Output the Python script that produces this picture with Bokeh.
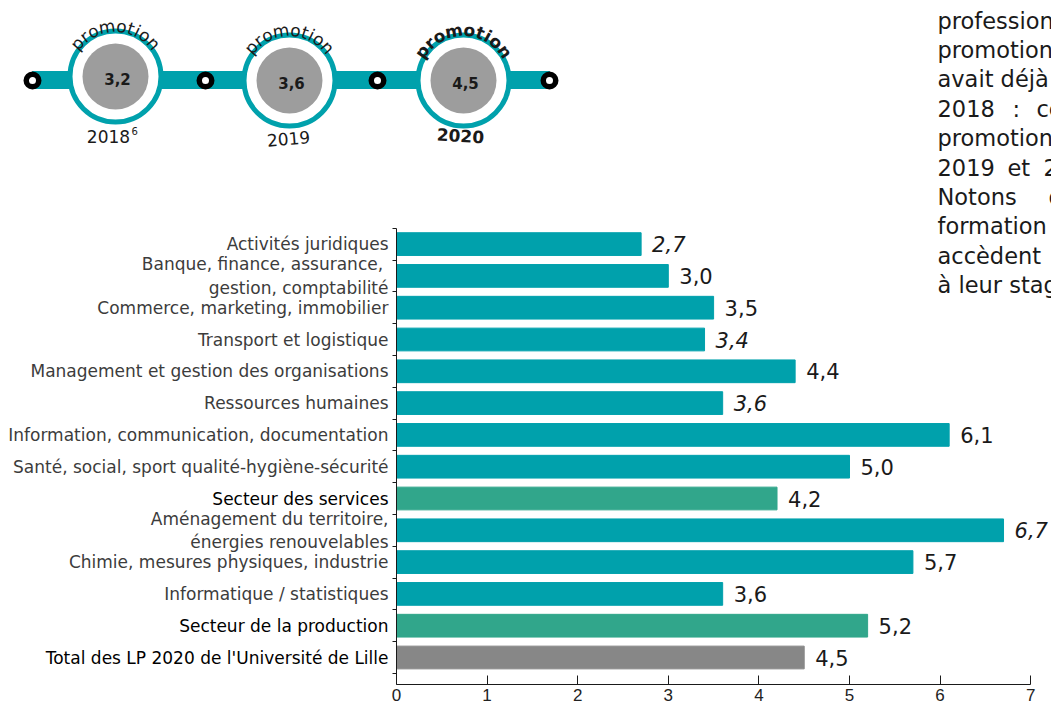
import math
from bokeh.plotting import figure
from bokeh.models import Range1d, LinearAxis, FixedTicker, ColumnDataSource
from bokeh.embed import file_html
from bokeh.resources import INLINE
from bokeh.core.properties import value

# ---------------- data ----------------
categories = [
    "Activités juridiques",
    "Banque, finance, assurance, \ngestion, comptabilité",
    "Commerce, marketing, immobilier",
    "Transport et logistique",
    "Management et gestion des organisations",
    "Ressources humaines",
    "Information, communication, documentation",
    "Santé, social, sport qualité-hygiène-sécurité",
    "Secteur des services",
    "Aménagement du territoire,\nénergies renouvelables",
    "Chimie, mesures physiques, industrie",
    "Informatique / statistiques",
    "Secteur de la production",
    "Total des LP 2020 de l'Université de Lille",
]
values = [2.7, 3.0, 3.5, 3.4, 4.4, 3.6, 6.1, 5.0, 4.2, 6.7, 5.7, 3.6, 5.2, 4.5]
value_labels = ["2,7", "3,0", "3,5", "3,4", "4,4", "3,6", "6,1", "5,0", "4,2", "6,7", "5,7", "3,6", "5,2", "4,5"]
italic_flags = [True, False, False, True, False, True, False, False, False, True, False, False, False, False]
kinds = ["filiere"] * 8 + ["secteur"] + ["filiere"] * 3 + ["secteur", "total"]

promo_years = ["2018", "2019", "2020"]
promo_values = ["3,2", "3,6", "4,5"]
x_ticks = [0, 1, 2, 3, 4, 5, 6, 7]

# ---------------- styles ----------------
TEAL = "#00A1AC"
GREEN = "#31A68B"
TOTAL = "#878787"
DISK = "#9D9D9D"
TXT = "#1a1a1a"
LAB = "#3c3c3c"
kind_color = {"filiere": TEAL, "secteur": GREEN, "total": TOTAL}
label_color = {"filiere": LAB, "secteur": "#000000", "total": "#000000"}
FONT = value("DejaVu Sans")

# ---------------- geometry (canvas pixels) ----------------
CW, CH = 1051, 702
PX0, PXU = 396.0, 90.6          # pixel of value 0, pixels per unit
ROW_Y0, ROW_H = 657.0, 31.8     # pixel of last row centre, row pitch
AXIS_Y = 684.0


def ry(py):
    return (ROW_Y0 - py) / ROW_H


n = len(categories)
ys = [n - 1 - i for i in range(n)]

p = figure(width=CW, height=CH,
           x_range=Range1d(-PX0 / PXU, (CW - PX0) / PXU),
           y_range=Range1d(ry(CH), ry(0)),
           output_backend="svg", toolbar_location=None, min_border=0,
           x_axis_location=None, y_axis_location=None)
p.grid.visible = False
p.outline_line_color = None
p.extra_x_ranges = {"px": Range1d(0, CW)}
p.extra_y_ranges = {"px": Range1d(CH, 0)}
PX = dict(x_range_name="px", y_range_name="px")

# ================= bar chart =================
src = ColumnDataSource(dict(y=ys, v=values, color=[kind_color[k] for k in kinds]))
p.hbar(y="y", left=0, right="v", height=0.715, color="color", source=src)

xaxis = LinearAxis(fixed_location=ry(AXIS_Y), bounds=(0, 7), ticker=FixedTicker(ticks=x_ticks),
                   major_tick_in=9, major_tick_out=0, minor_tick_line_color=None,
                   axis_line_color=TXT, major_tick_line_color=TXT,
                   major_label_text_font="Liberation Sans", major_label_text_font_size="17px",
                   major_label_text_color="#222222", major_label_standoff=4)
p.add_layout(xaxis, "below")
yticks = [i - 0.5 for i in range(0, n + 1)]
yaxis = LinearAxis(fixed_location=0, bounds=(ry(AXIS_Y), n - 0.5), ticker=FixedTicker(ticks=yticks),
                   major_tick_in=0, major_tick_out=4, minor_tick_line_color=None,
                   axis_line_color=TXT, major_tick_line_color=TXT,
                   major_label_overrides={t: "" for t in yticks})
p.add_layout(yaxis, "left")

cat_src = ColumnDataSource(dict(y=ys, text=categories, color=[label_color[k] for k in kinds]))
p.text(x=0, y="y", text="text", source=cat_src, x_offset=-8, text_align="right",
       text_baseline="middle", text_color="color", text_font=FONT, text_font_size="17px",
       text_line_height=1.18)

for flag, style in [(True, "italic"), (False, "normal")]:
    idx = [i for i in range(n) if italic_flags[i] == flag]
    p.text(x=[values[i] for i in idx], y=[ys[i] for i in idx], text=[value_labels[i] for i in idx],
           x_offset=11, text_align="left", text_baseline="middle", text_font=FONT,
           text_font_size="21px", text_font_style=style, text_color=TXT)

# ================= top timeline graphic (pixel coordinates) =================
circ_x = [115, 289, 463]
circ_y = [76, 80, 80]
node_x = [32, 205, 377, 549]

p.hbar(y=[79.5], left=[node_x[0]], right=[node_x[-1]], height=17, color=TEAL, **PX)
p.circle(x=circ_x, y=circ_y, radius=45.5, fill_color="white", line_color=TEAL, line_width=5, **PX)
p.circle(x=circ_x, y=circ_y, radius=33, fill_color=DISK, line_color=None, **PX)
p.circle(x=node_x, y=[80] * 4, radius=6.25, fill_color="white", line_color="black", line_width=5.5, **PX)
p.text(x=[c + 2 for c in circ_x], y=[c + 2 for c in circ_y], text=promo_values,
       text_font=FONT, text_font_style="bold", text_font_size="15px",
       text_align="center", text_baseline="middle", text_color=TXT, **PX)

W_REG = {"p": 0.635, "r": 0.411, "o": 0.612, "m": 0.974, "t": 0.392, "i": 0.278, "n": 0.634}
W_BOLD = {"p": 0.716, "r": 0.493, "o": 0.687, "m": 1.042, "t": 0.478, "i": 0.343, "n": 0.712}


def arc_letters(word, cx, cy, R, size, widths, track):
    adv = [widths[ch] * size + track for ch in word]
    total = sum(adv) - track
    xs, yy, angs = [], [], []
    s = -total / 2
    for a in adv:
        th = (s + (a - track) / 2) / R
        xs.append(cx + R * math.sin(th))
        yy.append(cy - R * math.cos(th))
        angs.append(-th)
        s += a
    return xs, yy, angs


for k in range(3):
    bold = (k == 2)
    xs, yy, angs = arc_letters("promotion", circ_x[k], circ_y[k], 50.5, 17,
                               W_BOLD if bold else W_REG, 1.2)
    p.text(x=xs, y=yy, angle=angs, text=list("promotion"), text_font=FONT,
           text_font_style="bold" if bold else "normal", text_font_size="17px",
           text_align="center", text_baseline="alphabetic", text_color=TXT, **PX)

p.text(x=[108], y=[136], text=[promo_years[0]], text_font=FONT, text_font_size="17px",
       text_align="center", text_baseline="middle", text_color=TXT, **PX)
p.text(x=[131], y=[130], text=["6"], text_font=FONT, text_font_size="10px",
       text_align="left", text_baseline="middle", text_color=TXT, **PX)
p.text(x=[288], y=[138], text=[promo_years[1]], angle=[0.08], text_font=FONT,
       text_font_size="17px", text_align="center", text_baseline="middle", text_color=TXT, **PX)
p.text(x=[460], y=[135], text=[promo_years[2]], angle=[-0.06], text_font=FONT,
       text_font_style="bold", text_font_size="17px", text_align="center", text_baseline="middle",
       text_color=TXT, **PX)

# right-hand paragraph (cut by the page edge, as in the source layout)
para_words = ["professionnelle", "promotion", "avait déjà", "2018", ":", "ce", "promotion",
              "2019", "et", "2020", "Notons", "que", "formation", "accèdent", "à leur stage"]
para_x = [937, 937, 937, 937, 1012, 1036, 937, 937, 1007, 1043, 937, 1048, 937, 937, 937]
para_line = [0, 1, 2, 3, 3, 3, 4, 5, 5, 5, 6, 6, 7, 8, 9]
baseline0, lead = 20.0, 29.4
p.text(x=para_x, y=[baseline0 + lead * l for l in para_line], text=para_words,
       text_font=FONT, text_font_size="22.5px", text_align="left",
       text_baseline="alphabetic", text_color=TXT, **PX)

open("out.html", "w").write(file_html(p, INLINE))
